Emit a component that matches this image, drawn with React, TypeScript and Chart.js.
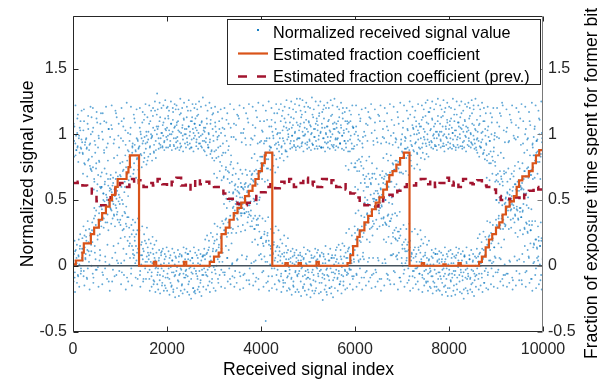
import React, { useEffect, useRef } from "react";
import { Chart, registerables } from "chart.js";

Chart.register(...registerables);

const FONT = "'Liberation Sans', Arial, Helvetica, sans-serif";

const X_MIN = 0;
const X_MAX = 10000;
const Y_MIN = -0.5;
const Y_MAX = 1.9;
const X_TICKS = [0, 2000, 4000, 6000, 8000, 10000];
const Y_TICKS = [-0.5, 0, 0.5, 1, 1.5];

const X_TITLE = "Received signal index";
const Y_TITLE = "Normalized signal value";
const Y2_TITLE = "Fraction of exposure time spent for former bit";
const LEGEND_LABELS = [
  "Normalized received signal value",
  "Estimated fraction coefficient",
  "Estimated fraction coefficient (prev.)",
];

// received signal, sampled every SIGNAL_STEP indices (three interleaved sample sets)
const SIGNAL_STEP = 10;
const SIGNAL_OFFSET_A = 0;
const SIGNAL_OFFSET_B = 5;
const SIGNAL_OFFSET_C = 3;
const signalValuesA = [
  .97,.04,.09,1.06,-.05,.93,.12,.88,.02,1.01,.91,-.08,.07,.99,.86,.15,1.1,-.02,.96,.06,
  .21,.85,1.03,-.04,.78,.14,.94,.09,.22,.89,-.1,1.08,.8,.18,.03,.92,.76,.25,1.0,.11,
  .72,.33,-.06,1.05,.26,.66,.95,.38,.05,.74,1.12,.29,.62,-.01,.35,.97,.79,.24,.08,.68,
  .45,.6,1.02,.37,-.07,.55,.88,.49,.64,.03,.4,1.09,.52,.33,.93,.61,-.12,.47,.57,.98,
  .5,.58,.42,1.04,.61,-.03,.47,.39,.96,.53,.1,.66,.44,1.13,.57,.35,.02,.49,.9,.63,
  .69,.31,.97,.6,-.05,.38,.72,1.06,.28,.04,.64,.4,.92,.75,.3,-.09,.7,1.01,.37,.62,
  .83,.17,1.0,.75,-.02,.24,.86,.93,.12,.06,.78,.22,1.09,.88,.15,.04,.81,.27,.95,.73,
  .9,.1,1.05,-.04,.85,.16,.97,.08,.93,.13,-.1,1.11,.82,.19,.03,.89,1.02,.07,.94,.14,
  .96,.05,1.08,-.03,.91,.1,1.0,-.08,.98,.02,1.14,.09,.87,-.12,1.03,.04,.95,-.01,1.06,1.31,
  1.04,-.02,.97,.06,1.1,-.07,.92,.01,1.01,.11,-.13,1.07,.99,-.04,.94,.05,1.12,-.09,1.03,.0,
  1.05,-.06,.99,1.12,.02,-.1,1.0,.95,-.01,1.08,-.15,.04,1.02,1.17,-.05,.91,-.08,1.06,.07,.97,
  -.04,1.09,.98,-.11,1.03,.03,-.07,1.15,.93,-.02,1.01,.08,-.14,1.07,.96,-.06,1.11,.01,1.04,-.09,
  1.0,-.03,1.13,.94,-.08,.05,1.06,-.12,.99,1.02,-.01,.9,-.05,1.1,.06,1.04,-.17,.97,-.02,1.08,
  .1,1.05,-.06,.96,1.14,-.1,.02,1.01,.93,-.04,1.07,-.13,.99,.04,1.1,-.07,.95,.08,1.03,-.02,
  1.02,.05,-.05,.97,.09,1.08,-.08,.92,.12,1.0,-.01,.94,.07,1.11,.03,.88,-.1,1.04,.13,.95,
  .17,.87,-.03,1.06,.11,.82,.2,.96,.05,.9,.14,1.1,-.07,.79,.22,1.01,.13,.84,.03,.93,
  .32,.68,1.04,-.05,.27,.73,.36,.95,.06,.66,.25,1.08,.71,.34,-.1,.77,.29,.98,.64,.02,
  .44,.56,.98,.39,.61,-.04,.47,1.07,.53,.36,.05,.6,.41,1.12,.55,.48,-.08,.63,.38,.94,
  .52,.47,1.01,.58,.43,-.06,.6,.5,.92,.41,.07,.57,.46,1.09,.53,.39,-.02,.62,.49,.97,
  .69,.3,.96,.65,.36,.03,.72,.28,1.05,.63,-.09,.35,.7,.93,.31,.66,.08,.38,1.1,.74,
  .78,.22,1.03,.83,.17,-.04,.76,.24,.95,.85,-.42,.19,.81,1.11,.25,.74,-.08,.16,.97,.86,
  .9,.13,1.06,-.02,.86,.1,.99,.16,.84,.04,1.09,.11,.93,-.07,.89,.15,1.01,.08,.92,.14,
  .97,.04,1.1,-.06,.91,.09,1.03,-.11,.95,.07,1.12,.01,.88,-.04,1.05,.1,.96,-.08,1.0,.05,
  1.04,-.03,.93,.06,1.13,-.09,.99,.02,1.07,-.12,.95,.08,1.01,-.05,.9,.03,1.09,-.07,.97,.0,
  -.06,1.03,.97,1.27,1.08,.04,-.02,1.15,.94,-.08,.99,.06,-.14,1.05,1.0,-.04,1.11,.01,.92,-.09,
  1.02,-.05,1.09,.96,-.1,.03,1.06,-.15,1.01,.93,-.03,1.13,-.07,.98,.07,1.04,-.12,.95,-.01,1.1,
  .05,1.07,-.08,.99,1.16,-.04,.0,1.02,.9,-.13,1.05,-.06,.97,.09,1.12,-.1,.94,.02,1.01,-.03,
  1.06,-.07,.98,1.1,.04,-.11,1.03,.95,-.02,1.14,-.16,.06,1.0,1.08,-.05,.92,-.09,1.04,.08,.97,
  -.03,1.05,.96,-.09,1.1,.02,-.06,1.01,.93,-.12,1.07,.05,-.01,.99,1.12,-.08,1.03,.07,.95,-.04,
  .1,.9,1.04,-.05,.06,.95,.13,1.09,-.02,.87,.09,.99,.04,.93,-.08,1.06,.12,.89,.03,1.0,
  .25,.75,1.02,-.06,.2,.8,.28,.96,.03,.72,.19,1.1,.79,.26,-.09,.83,.22,.98,.74,.05,
  .37,.63,.99,.31,.68,-.04,.4,1.07,.6,.33,.06,.66,.38,1.12,.62,.29,-.07,.7,.34,.95,
  .49,.51,1.03,.44,.57,-.05,.5,.46,.94,.55,.04,.42,.53,1.1,.48,.58,-.1,.45,.52,.98,
  .63,.37,.97,.68,.33,.02,.7,.31,1.06,.61,-.07,.39,.67,.93,.34,.64,.08,.36,1.11,.72,
  .78,.22,1.01,.73,.27,-.05,.8,.2,.96,.75,.05,.26,.79,1.08,.21,.71,-.09,.28,.93,.82,
  .87,.13,1.05,.83,.18,-.03,.89,.11,.97,.82,.06,.16,.9,1.12,.12,.86,-.08,.19,.95,.84,
  .92,.09,1.07,-.04,.88,.12,1.0,-.09,.93,.07,1.1,.03,.86,-.01,1.03,.14,.9,-.06,1.06,.1,
  .97,.05,1.11,-.07,.93,.02,1.04,-.1,.96,.08,1.14,-.03,.91,.06,1.0,-.12,1.08,.04,.94,-.05,
  1.03,-.04,.95,.07,1.12,-.08,.99,.01,1.06,-.13,.92,.09,1.02,-.06,.97,.03,1.1,-.1,1.0,.05,
  -.05,1.08,.96,-.1,1.02,.05,-.03,1.14,.93,-.08,1.0,.03,-.15,1.06,.98,-.02,1.11,.07,.94,-.07,
  1.04,-.06,1.1,.97,-.12,.02,1.05,-.09,1.01,.92,-.04,1.15,-.07,.99,.06,1.03,-.14,.96,.0,1.09,
  .04,1.06,-.07,1.0,1.13,-.03,.01,1.04,.91,-.11,1.07,-.05,.95,.08,1.1,-.09,.98,.03,1.02,-.02,
  1.05,-.08,.97,1.12,.05,-.1,1.01,.94,-.03,1.16,-.13,.04,.99,1.07,-.06,.93,-.08,1.03,.06,.96,
  -.02,1.02,.07,.95,-.06,1.08,.1,.9,.02,1.01,-.09,.96,.05,1.1,.12,.88,-.04,1.04,.08,.93,
  .2,.8,1.03,-.05,.15,.85,.23,.95,.04,.78,.17,1.09,.83,.21,-.08,.87,.14,.99,.79,.06,
  .35,.65,.98,.3,.7,-.03,.38,1.06,.62,.31,.05,.68,.36,1.24,.64,.28,-.07,.72,.32,.94,
  .48,.52,1.02,.44,.56,-.06,.5,.45,.95,.54,.03,.42,.51,1.09,.47,.57,-.11,.46,.53,.97,
  .62,.38,.96,.58,.43,.04,.64,.36,1.05,.57,-.06,.41,.61,.92,.37,.59,.09,.42,1.1,.66,
  .72,.28,1.0,.68,.33,-.04,.74,.26,.97,.67,.06,.31,.71,1.07,.27,.69,-.1,.34,.93,.75,
  .84,.16,1.04,.8,.2,-.02,.86,.14,.96,.79,.07,.19,.85,1.11,.15,.83,-.07,.21,.94,.88,
];
const signalValuesB = [
  .02,1.08,.95,-.09,.11,.84,.99,.06,-.13,.9,1.15,.08,.97,.01,.13,1.03,-.06,.89,.1,.94,
  .86,.13,-.08,1.1,.23,.77,.05,.96,.19,.9,.12,-.02,1.04,.81,.28,.08,.93,.74,.16,1.13,
  .27,1.02,.75,-.09,.36,.64,.1,.92,.31,.78,-.03,1.09,.23,.69,.99,.4,.04,.6,.34,1.16,
  .6,.43,-.05,.96,.5,.36,1.1,.62,.07,.46,.54,.9,-.1,.39,.66,1.04,.48,.01,.59,.44,
  .43,1.07,.56,.06,.49,.63,.93,.38,-.08,.59,.46,1.16,.51,.04,.41,.68,.99,.54,-.04,.47,
  .35,.68,.02,1.1,.63,.27,.95,.73,-.07,.41,.6,1.03,.32,.09,.7,.37,.88,-.12,.65,.29,
  .22,.78,1.05,-.06,.84,.15,.9,.09,.27,.73,1.12,.19,.02,.87,.24,.97,.82,-.1,.13,.76,
  .14,.91,-.07,1.02,.08,.84,.18,1.09,.05,.95,.11,.86,1.15,-.02,.93,.17,.99,.03,.8,.1,
  1.02,.08,-.1,.9,1.1,.03,.97,-.05,.99,.13,1.05,-.14,.92,.06,1.18,-.02,.88,.1,1.0,-.07,
  -.05,1.06,.04,.93,-.11,1.13,.97,.08,-.02,1.01,.9,-.08,1.09,.02,.95,-.15,1.04,.07,.98,1.2,
  .96,-.09,1.14,-.02,1.03,.06,.92,-.13,1.08,1.0,-.05,.04,1.11,-.18,.97,1.05,.01,-.07,1.19,.94,
  1.07,-.01,.95,1.1,-.12,.07,1.02,-.06,.9,1.16,-.03,-.15,1.05,.99,.03,1.12,-.09,1.0,.05,-.04,
  -.07,1.04,.97,.09,1.18,-.14,1.06,-.02,.93,.04,1.1,-.1,.96,1.13,-.06,.02,1.01,-.2,1.08,.99,
  1.12,-.04,.94,1.03,-.08,.06,1.15,-.16,.98,1.07,.01,-.11,.91,1.09,-.03,1.0,.07,-.07,1.05,.95,
  .08,1.05,.94,-.07,1.12,.1,-.03,.9,1.01,.14,-.12,.96,1.08,.04,.87,-.05,1.15,.11,.99,-.01,
  .8,.19,1.09,-.06,.88,.12,.24,.98,-.1,.83,.16,1.04,.07,.91,.21,-.03,.76,1.12,.1,.86,
  .67,.27,-.07,.99,.35,.75,1.11,.22,.06,.72,.33,.91,-.02,.63,.38,1.05,.79,.25,.01,.69,
  .55,.45,1.08,-.09,.38,.62,.96,.49,.04,.57,.35,1.14,.66,.43,-.05,.52,.4,1.01,.6,.08,
  .44,.59,-.07,1.04,.51,.4,.97,.63,.05,.48,.56,1.12,.37,.61,-.11,.46,.53,.92,.42,.02,
  .34,.7,1.07,-.06,.64,.28,.99,.38,.04,.73,.31,1.13,.62,.36,-.1,.68,.26,.94,.71,.09,
  .21,.83,-.05,1.02,.77,.15,1.1,.26,.86,.03,.18,.95,.74,.23,-.12,.81,.19,1.06,.88,.01,
  .15,.9,1.11,-.08,.85,.09,.97,.18,-.02,.92,.06,1.04,.81,.14,1.16,.03,.94,-.11,.87,.11,
  1.01,.07,-.08,.9,1.14,.02,.97,-.13,1.06,.1,.93,-.04,1.09,.05,.87,-.09,1.03,.12,.98,-.01,
  -.06,1.09,.03,.95,-.1,1.05,.99,.07,-.15,1.12,.91,.01,1.02,-.04,1.17,.06,.96,-.08,1.07,.04,
  .97,-.04,1.06,.08,-.12,1.13,.93,-.01,1.02,-.16,.05,1.09,.99,-.07,1.17,.02,-.1,1.04,.94,-.03,
  -.09,1.1,.03,.95,1.07,-.14,1.0,.06,-.05,1.15,.92,-.11,1.04,.0,.98,-.19,1.08,.04,1.12,-.02,
  1.03,-.06,.96,1.14,-.13,.07,1.01,-.03,.9,1.08,-.09,.02,1.19,.97,-.07,1.05,.05,-.15,1.0,.93,
  -.02,1.06,.94,-.08,1.11,.04,-.17,1.02,.98,.06,-.05,1.15,.91,-.11,1.04,.01,1.09,-.06,.96,.03,
  1.08,.05,-.1,.97,1.02,-.04,1.13,-.14,.93,.07,1.05,-.07,.99,1.16,.02,-.12,1.01,.95,-.03,1.1,
  .93,.06,-.07,1.1,.11,.87,1.02,.14,-.03,.96,.09,1.15,.02,.89,.15,-.1,1.05,.05,.91,.12,
  .78,.2,1.06,-.07,.72,.27,.99,.04,.81,.24,-.02,1.12,.18,.76,.3,.93,.07,.69,.25,1.02,
  .66,.32,-.05,1.08,.6,.39,.95,.03,.7,.36,1.13,.28,-.09,.63,.41,1.01,.67,.3,.06,.92,
  .55,.45,1.09,-.03,.5,.43,.97,.57,.06,.48,.52,1.14,-.1,.44,.59,.93,.46,.54,.02,1.04,
  .36,.66,1.1,.05,.62,.32,.94,-.06,.69,.38,1.03,.6,.3,-.11,.71,.34,.99,.64,.08,.39,
  .25,.77,-.04,1.07,.73,.21,.97,.29,.8,.08,.19,1.13,.74,.26,-.09,.79,.23,.92,.71,.02,
  .16,.86,1.1,-.06,.82,.13,.95,.2,.89,.04,.11,1.04,.84,.18,-.11,.88,.14,1.15,.8,.07,
  .1,.91,-.08,1.05,.06,.87,1.13,.14,-.02,.94,.09,1.0,.85,-.12,.96,.12,1.08,.03,.89,.15,
  1.06,.03,.9,-.09,1.13,.07,.98,-.04,1.02,.1,.93,-.13,1.09,.01,.96,-.06,1.17,.05,.92,-.02,
  .01,1.04,-.08,.94,1.11,.06,-.12,1.0,.97,-.03,1.08,.09,.91,-.16,1.02,.04,1.14,-.05,.99,.02,
  1.02,-.08,.95,1.13,.03,-.13,1.06,.99,-.02,.91,1.17,-.06,.05,1.04,-.1,.97,1.09,-.17,.01,1.0,
  -.03,1.07,.93,-.11,1.12,.06,-.06,1.01,.96,.02,-.15,1.1,1.03,-.04,.9,.08,1.15,-.09,.98,-.01,
  1.09,.01,-.12,.97,1.05,-.05,1.16,.04,-.08,.94,1.02,-.18,.07,1.11,.99,-.03,1.06,.02,-.1,.92,
  -.06,1.03,.95,.05,1.14,-.09,1.0,-.14,.93,1.08,.03,-.04,1.19,.96,-.11,1.04,.0,.9,-.07,1.11,
  .97,.03,-.1,1.07,.09,.91,1.14,.0,.94,-.06,.13,1.02,.06,.86,-.13,1.1,.08,.99,-.02,.92,
  .84,.16,-.07,1.06,.22,.78,.95,.12,.87,.25,-.02,1.13,.19,.8,.03,.9,.14,1.01,.76,.27,
  .69,.31,1.09,-.05,.64,.36,.97,.06,.72,.28,1.14,.66,.38,-.1,.61,.35,1.03,.7,.01,.3,
  .51,.45,-.06,1.05,.55,.42,.94,.5,.04,.58,.46,1.11,.43,.53,-.09,.49,.6,.99,.44,.07,
  .39,.62,1.07,-.04,.57,.42,.98,.35,.65,.05,.44,1.12,.6,.37,-.11,.63,.41,.93,.58,.03,
  .29,.72,-.05,1.04,.68,.32,.96,.25,.75,.07,.34,1.1,.69,.27,-.1,.73,.31,.92,.66,.02,
  .17,.84,1.06,-.07,.8,.2,.95,.13,.87,.04,.22,1.12,.79,.15,-.11,.85,.19,1.01,.88,.06,
];
const signalValuesC = [
  1.15,-.12,.83,.19,-.2,1.22,.0,.88,.16,1.12,-.07,.79,.2,-.16,1.05,.24,.9,-.04,1.18,.13,
  .04,.7,.3,1.19,-.15,.92,.06,.27,.97,-.09,.68,.34,1.14,.11,.88,-.18,.23,1.21,.73,.0,
  .83,.18,1.2,-.13,.58,.44,.15,.86,-.03,.42,1.17,.57,.2,.9,-.16,.8,.45,.12,1.08,.59,
  .3,.71,-.14,1.16,.55,.29,.86,.74,-.02,.33,1.21,.7,.5,.16,.8,.27,1.04,.46,-.19,.66,
  .69,.32,1.22,-.12,.36,.67,.15,.82,.58,.3,1.18,.71,-.07,.39,.84,.6,.17,1.08,.33,.52,
  .78,.21,-.14,1.2,.5,.79,.47,.13,1.12,.56,.22,.84,-.18,.45,1.24,.8,.19,.53,.87,.15,
  .95,.06,.68,1.21,.31,-.15,.91,.35,.7,1.15,.08,.92,.33,-.09,.67,1.19,.1,.96,.36,.89,
  .74,.27,1.2,-.16,1.0,.01,.75,.3,1.17,-.12,.79,.24,.98,.0,1.23,-.1,.77,.29,1.13,-.05,
  .83,.2,1.22,-.19,.85,.17,1.18,-.16,.8,.22,1.2,-.11,.86,.16,1.25,-.2,.82,.19,1.15,-.14,
  1.19,-.18,.89,.12,1.24,-.21,.9,.1,1.2,-.15,.91,.13,1.22,-.19,.88,.09,1.26,-.17,.9,.14,
  -.19,1.21,.9,.11,1.18,-.22,.91,.08,1.25,-.16,.88,.13,1.2,-.2,.92,.1,1.23,-.24,.89,.06,
  1.22,-.17,.9,.12,1.19,-.23,.88,.09,1.27,-.19,.91,.07,1.2,-.21,.87,.14,1.24,-.18,.93,.1,
  .9,.13,1.21,-.2,.92,.09,1.26,-.22,.89,.11,1.18,-.25,.9,.06,1.23,-.17,.87,.14,1.2,-.19,
  -.21,1.23,.91,.08,1.19,-.18,.89,.12,1.25,-.2,.93,.09,1.21,-.23,.9,.07,1.28,-.16,.88,.13,
  .87,.2,1.22,-.18,.84,.23,1.18,-.15,.9,.19,1.24,-.2,.85,.25,1.2,-.13,.82,.22,1.16,-.17,
  .7,.32,1.21,-.19,1.02,.0,.67,.3,1.17,-.13,.99,.03,.72,.29,1.19,-.16,.65,.34,1.05,-.05,
  .54,.47,1.2,-.17,.86,.15,.51,.44,1.16,-.12,.88,.12,.56,.49,1.23,-.14,.84,.17,.5,-.08,
  .28,.74,1.19,-.16,.42,.58,.7,.25,-.13,1.15,.78,.3,.56,.46,1.22,-.18,.73,.26,.6,.4,
  .7,.31,-.17,1.2,.4,.62,.27,.73,1.16,-.11,.69,.33,.6,.41,1.23,-.14,.72,.3,.38,.66,
  .82,.18,1.21,-.15,.51,.49,.85,.2,-.12,1.18,.53,.47,.8,.16,1.24,-.18,.5,.52,.83,.21,
  .95,.05,.66,.36,1.22,-.16,.93,.07,.64,.34,1.18,-.13,.97,.03,.65,.37,1.25,-.19,.91,.08,
  .73,.28,1.2,-.17,1.02,.0,.76,.25,1.16,-.14,.71,.3,1.23,-.18,1.0,-.03,.75,.27,1.19,-.12,
  .82,.2,1.23,-.2,.85,.17,1.18,-.16,.8,.23,1.21,-.13,.87,.15,1.26,-.19,.83,.21,1.15,-.17,
  1.2,-.18,.89,.11,1.25,-.22,.9,.13,1.19,-.16,.92,.1,1.23,-.2,.88,.12,1.27,-.18,.91,.08,
  -.2,1.22,.9,.1,1.18,-.23,.91,.07,1.26,-.17,.87,.14,1.21,-.19,.93,.09,1.24,-.22,.89,.12,
  1.21,-.18,.9,.11,1.2,-.24,.88,.08,1.28,-.19,.92,.06,1.19,-.21,.89,.13,1.25,-.17,.91,.1,
  .89,.12,1.22,-.21,.91,.08,1.25,-.2,.9,.1,1.17,-.26,.9,.07,1.22,-.18,.87,.15,1.2,-.2,
  -.22,1.24,.9,.09,1.2,-.17,.89,.13,1.26,-.21,.92,.08,1.22,-.24,.9,.06,1.27,-.17,.88,.12,
  .91,.14,1.21,-.19,.9,.16,1.19,-.14,.93,.12,1.24,-.21,.89,.17,1.2,-.15,.88,.15,1.17,-.18,
  .76,.25,1.2,-.17,1.08,-.06,.73,.28,1.18,-.14,1.1,-.03,.78,.23,1.22,-.18,1.05,-.08,.75,.3,
  .6,.4,1.22,-.16,.92,.08,.58,.42,1.15,-.13,.95,.05,.63,.38,1.19,-.18,.9,.1,.57,-.09,
  .48,.52,1.2,-.15,.8,.2,.5,.47,1.17,-.12,.83,.18,.46,.54,1.23,-.17,.78,.23,.51,-.06,
  .32,.7,1.19,-.16,.66,.35,.74,.28,-.12,1.15,.62,.4,.3,.69,1.22,-.19,.36,.67,.72,.31,
  .82,.2,-.15,1.2,.5,.5,.18,.85,1.16,-.1,.8,.22,.48,.53,1.23,-.14,.84,.17,.52,.47,
  .92,.09,1.21,-.14,.6,.4,.94,.07,.62,.38,1.17,-.18,.9,.1,.58,.41,1.24,-.12,.96,.06,
  1.0,.0,.7,.31,1.22,-.16,.98,.02,.72,.28,1.18,-.13,1.03,-.02,.69,.32,1.25,-.19,.99,.04,
  .76,.26,1.21,-.17,1.04,-.04,.74,.28,1.18,-.14,1.06,-.02,.77,.24,1.23,-.18,1.01,-.06,.73,.27,
  .82,.2,1.22,-.2,.86,.17,1.19,-.15,.81,.22,1.24,-.12,.85,.16,1.26,-.19,.83,.19,1.17,-.16,
  1.2,-.17,.9,.12,1.25,-.21,.89,.1,1.19,-.16,.91,.13,1.23,-.19,.88,.09,1.27,-.18,.92,.11,
  -.19,1.22,.9,.1,1.19,-.22,.91,.08,1.26,-.16,.87,.14,1.2,-.2,.92,.09,1.24,-.23,.89,.11,
  1.21,-.17,.9,.12,1.2,-.23,.89,.09,1.27,-.19,.91,.07,1.19,-.22,.88,.14,1.25,-.18,.92,.1,
  .9,.13,1.22,-.2,.91,.09,1.25,-.21,.89,.11,1.18,-.25,.9,.07,1.23,-.17,.87,.14,1.21,-.19,
  -.21,1.24,.91,.08,1.2,-.18,.9,.12,1.26,-.2,.92,.09,1.22,-.23,.89,.07,1.27,-.16,.88,.13,
  .86,.21,1.22,-.18,.83,.24,1.19,-.15,.9,.18,1.24,-.2,.85,.26,1.2,-.13,.81,.22,1.16,-.17,
  .67,.34,1.21,-.18,.98,.04,.65,.33,1.16,-.14,1.0,.02,.7,.31,1.2,-.16,.96,.07,.64,-.05,
  .5,.5,1.2,-.17,.84,.17,.48,.52,1.16,-.12,.86,.14,.53,.46,1.22,-.15,.82,.2,.47,-.07,
  .31,.71,1.19,-.16,.64,.37,.74,.28,-.13,1.15,.66,.35,.29,.7,1.22,-.18,.36,.68,.72,.33,
  .76,.25,-.15,1.2,.45,.57,.22,.79,1.17,-.11,.74,.27,.44,.58,1.23,-.14,.78,.24,.47,.55,
  .86,.15,1.21,-.16,.55,.46,.88,.12,.52,.44,1.17,-.13,.84,.17,.57,.43,1.24,-.19,.9,.14,
  .98,.03,.67,.34,1.22,-.17,.95,.06,.7,.3,1.18,-.14,1.0,.01,.66,.33,1.25,-.18,.97,.05,
];

// estimated fraction coefficient (step function: value holds from x until next x)
const FRAC_X = [
  0, 60, 200, 230, 380, 450, 550, 620, 700, 780, 830, 900, 950, 1140, 1180, 1210, 1405,
  1720, 1770, 2360, 2410,
  2910, 3000, 3100, 3160, 3250, 3330, 3420, 3500, 3580, 3660, 3740, 3820, 3880, 3950, 4020, 4080, 4100, 4240,
  4520, 4570, 4800, 4850, 5180, 5230,
  5840, 5900, 5960, 6050, 6100, 6200, 6280, 6360, 6440, 6520, 6600, 6680, 6730, 6800, 6880, 6960, 7040, 7160,
  7420, 7470, 7880, 7930, 8200, 8250,
  8640, 8700, 8780, 8850, 8920, 9000, 9070, 9140, 9210, 9290, 9380, 9440, 9490, 9560, 9700, 9780, 9850, 9920, 10000,
];
const FRAC_Y = [
  0.01, 0.04, 0.1, 0.17, 0.24, 0.29, 0.35, 0.4, 0.45, 0.5, 0.54, 0.6, 0.66, 0.71, 0.75, 0.84, 0,
  0.03, 0, 0.03, 0,
  0.03, 0.07, 0.1, 0.24, 0.29, 0.35, 0.4, 0.44, 0.48, 0.53, 0.57, 0.61, 0.66, 0.72, 0.78, 0.84, 0.86, 0,
  0.02, 0, 0.02, 0, 0.03, 0,
  0.02, 0.08, 0.15, 0.22, 0.27, 0.33, 0.38, 0.43, 0.48, 0.52, 0.58, 0.64, 0.69, 0.72, 0.77, 0.82, 0.86, 0,
  0.02, 0, 0.01, 0, 0.02, 0,
  0.03, 0.07, 0.14, 0.2, 0.24, 0.29, 0.33, 0.39, 0.45, 0.49, 0.53, 0.6, 0.65, 0.68, 0.72, 0.78, 0.84, 0.88, 0.9,
];

// previous estimate, one value every PREV_STEP indices
const PREV_STEP = 100;
const prevValues = [
  .63,.64,.61,.6,.55,.49,.46,.5,.55,.6,
  .63,.6,.66,.62,.65,.6,.63,.61,.66,.62,
  .6,.64,.67,.61,.63,.58,.66,.62,.64,.61,
  .6,.58,.55,.51,.49,.47,.46,.48,.5,.53,
  .56,.6,.62,.59,.64,.62,.66,.6,.63,.67,
  .61,.64,.6,.66,.63,.65,.6,.62,.58,.55,
  .52,.48,.46,.45,.45,.49,.52,.54,.53,.57,
  .6,.62,.61,.64,.66,.62,.65,.6,.63,.67,
  .61,.64,.6,.66,.63,.62,.65,.61,.6,.58,
  .53,.5,.51,.49,.52,.5,.54,.57,.6,.58,
  .56,
];

const ZERO_LINE_X = [X_MIN, X_MAX];
const ZERO_LINE_Y = [0, 0];

const COLORS = {
  signal: "rgba(0,114,189,0.62)",
  frac: "#D95319",
  prev: "#A2142F",
  zero: "#46525d",
  axis: "#262626",
  axisRight: "#7a7a7a",
};

const overlayPlugin = {
  id: "matlabOverlay",
  afterDatasetsDraw(chart: any) {
    const { ctx, chartArea } = chart;
    const xs = chart.scales.x;
    const ys = chart.scales.y;
    const L = Math.round(chartArea.left) + 0.5;
    const R = Math.round(chartArea.right) - 0.5;
    const T = Math.round(chartArea.top) + 0.5;
    const B = Math.round(chartArea.bottom) - 0.5;
    const tl = 5;
    ctx.save();
    ctx.lineWidth = 1;
    ctx.strokeStyle = COLORS.axis;
    ctx.beginPath();
    ctx.moveTo(L, B);
    ctx.lineTo(L, T);
    ctx.lineTo(R, T);
    ctx.moveTo(L, B);
    ctx.lineTo(R, B);
    for (const v of X_TICKS) {
      const px = Math.round(xs.getPixelForValue(v)) + 0.5;
      ctx.moveTo(px, B);
      ctx.lineTo(px, B - tl);
      ctx.moveTo(px, T);
      ctx.lineTo(px, T + tl);
    }
    for (const v of Y_TICKS) {
      const py = Math.round(ys.getPixelForValue(v)) + 0.5;
      ctx.moveTo(L, py);
      ctx.lineTo(L + tl, py);
    }
    ctx.stroke();
    ctx.strokeStyle = COLORS.axisRight;
    ctx.beginPath();
    ctx.moveTo(R, T);
    ctx.lineTo(R, B);
    for (const v of Y_TICKS) {
      const py = Math.round(ys.getPixelForValue(v)) + 0.5;
      ctx.moveTo(R, py);
      ctx.lineTo(R - tl, py);
    }
    ctx.stroke();

    // legend
    const lx = 227.5, ly = 19.5, lw = 313, lh = 65;
    ctx.fillStyle = "#ffffff";
    ctx.fillRect(lx, ly, lw, lh);
    ctx.strokeStyle = COLORS.axis;
    ctx.strokeRect(lx, ly, lw, lh);
    ctx.font = `16.2px ${FONT}`;
    ctx.textAlign = "left";
    ctx.textBaseline = "alphabetic";
    ctx.fillStyle = "#000000";
    const baselines = [38, 60, 82];
    const textX = 273;
    LEGEND_LABELS.forEach((t, i) => ctx.fillText(t, textX, baselines[i]));
    ctx.fillStyle = "rgba(0,114,189,0.9)";
    ctx.fillRect(257, 29, 2, 2);
    ctx.strokeStyle = COLORS.frac;
    ctx.lineWidth = 2.2;
    ctx.beginPath();
    ctx.moveTo(238, 53.5);
    ctx.lineTo(268, 53.5);
    ctx.stroke();
    ctx.strokeStyle = COLORS.prev;
    ctx.lineWidth = 2.5;
    ctx.setLineDash([9, 10]);
    ctx.beginPath();
    ctx.moveTo(238, 76.5);
    ctx.lineTo(268, 76.5);
    ctx.stroke();
    ctx.setLineDash([]);
    ctx.restore();
  },
  afterDraw(chart: any) {
    const { ctx, chartArea } = chart;
    ctx.save();
    ctx.fillStyle = "#000000";
    ctx.font = `17.6px ${FONT}`;
    ctx.textBaseline = "alphabetic";
    ctx.textAlign = "center";
    const cx = (chartArea.left + chartArea.right) / 2;
    const cy = (chartArea.top + chartArea.bottom) / 2;
    ctx.fillText(X_TITLE, cx + 0.5, 374.5);
    ctx.save();
    ctx.translate(32.5, cy);
    ctx.rotate(-Math.PI / 2);
    ctx.fillText(Y_TITLE, 0, 0);
    ctx.restore();
    ctx.save();
    ctx.translate(597, 183.5);
    ctx.rotate(-Math.PI / 2);
    ctx.fillText(Y2_TITLE, 0, 0);
    ctx.restore();
    ctx.restore();
  },
};

export default function App() {
  const ref = useRef<HTMLCanvasElement>(null);
  useEffect(() => {
    const canvas = ref.current;
    if (!canvas) return;
    const signalData = [
      ...signalValuesA.map((v, i) => ({ x: i * SIGNAL_STEP + SIGNAL_OFFSET_A, y: v })),
      ...signalValuesB.map((v, i) => ({ x: i * SIGNAL_STEP + SIGNAL_OFFSET_B, y: v })),
      ...signalValuesC.map((v, i) => ({ x: i * SIGNAL_STEP + SIGNAL_OFFSET_C, y: v })),
    ].sort((a, b) => a.x - b.x);
    const fracData = FRAC_X.map((x, i) => ({ x, y: FRAC_Y[i] }));
    const prevData = prevValues.map((v, i) => ({ x: i * PREV_STEP, y: v }));
    const zeroData = ZERO_LINE_X.map((x, i) => ({ x, y: ZERO_LINE_Y[i] }));
    const tickFont = { family: FONT, size: 16 };
    const chart = new Chart(canvas, {
      type: "line",
      data: {
        datasets: [
          {
            label: LEGEND_LABELS[1],
            data: fracData,
            borderColor: COLORS.frac,
            borderWidth: 2.2,
            stepped: "before",
            pointRadius: 0,
            fill: false,
            order: 0,
          },
          {
            label: LEGEND_LABELS[2],
            data: prevData,
            borderColor: COLORS.prev,
            borderWidth: 2.5,
            borderDash: [7, 6],
            stepped: "before",
            pointRadius: 0,
            fill: false,
            order: 1,
          },
          {
            label: "zero",
            data: zeroData,
            borderColor: COLORS.zero,
            borderWidth: 1.5,
            pointRadius: 0,
            fill: false,
            order: 2,
          },
          {
            label: LEGEND_LABELS[0],
            data: signalData,
            showLine: false,
            pointRadius: 0.95,
            pointBorderWidth: 0,
            pointBackgroundColor: COLORS.signal,
            pointStyle: "circle",
            order: 3,
          },
        ],
      },
      options: {
        responsive: false,
        animation: false,
        devicePixelRatio: 1,
        layout: { padding: { top: 16, left: 0, right: 0, bottom: 0 } },
        plugins: {
          legend: { display: false },
          tooltip: { enabled: false },
        },
        scales: {
          x: {
            type: "linear",
            min: X_MIN,
            max: X_MAX,
            afterBuildTicks: (s: any) => {
              s.ticks = X_TICKS.map((v) => ({ value: v }));
            },
            afterFit: (s: any) => {
              s.height = 47.5;
            },
            grid: { display: false, drawTicks: false },
            border: { display: false },
            ticks: {
              padding: 8,
              font: tickFont,
              color: COLORS.axis,
              maxRotation: 0,
              autoSkip: false,
              callback: (v: any) => String(v),
            },
          },
          y: {
            type: "linear",
            position: "left",
            min: Y_MIN,
            max: Y_MAX,
            afterBuildTicks: (s: any) => {
              s.ticks = Y_TICKS.map((v) => ({ value: v }));
            },
            afterFit: (s: any) => {
              s.width = 73;
            },
            grid: { display: false, drawTicks: false },
            border: { display: false },
            ticks: {
              padding: 6,
              font: tickFont,
              color: COLORS.axis,
              callback: (v: any) => String(v),
            },
          },
          y2: {
            type: "linear",
            position: "right",
            min: Y_MIN,
            max: Y_MAX,
            afterBuildTicks: (s: any) => {
              s.ticks = Y_TICKS.map((v) => ({ value: v }));
            },
            afterFit: (s: any) => {
              s.width = 56;
            },
            grid: { display: false, drawTicks: false },
            border: { display: false },
            ticks: {
              padding: 5,
              font: tickFont,
              color: COLORS.axis,
              callback: (v: any) => String(v),
            },
          },
        },
      },
      plugins: [overlayPlugin],
    } as any);
    return () => chart.destroy();
  }, []);
  return (
    <div style={{ position: "fixed", left: 0, top: 0, width: 599, height: 379, background: "#fff" }}>
      <canvas ref={ref} width={599} height={379} style={{ display: "block" }} />
    </div>
  );
}
